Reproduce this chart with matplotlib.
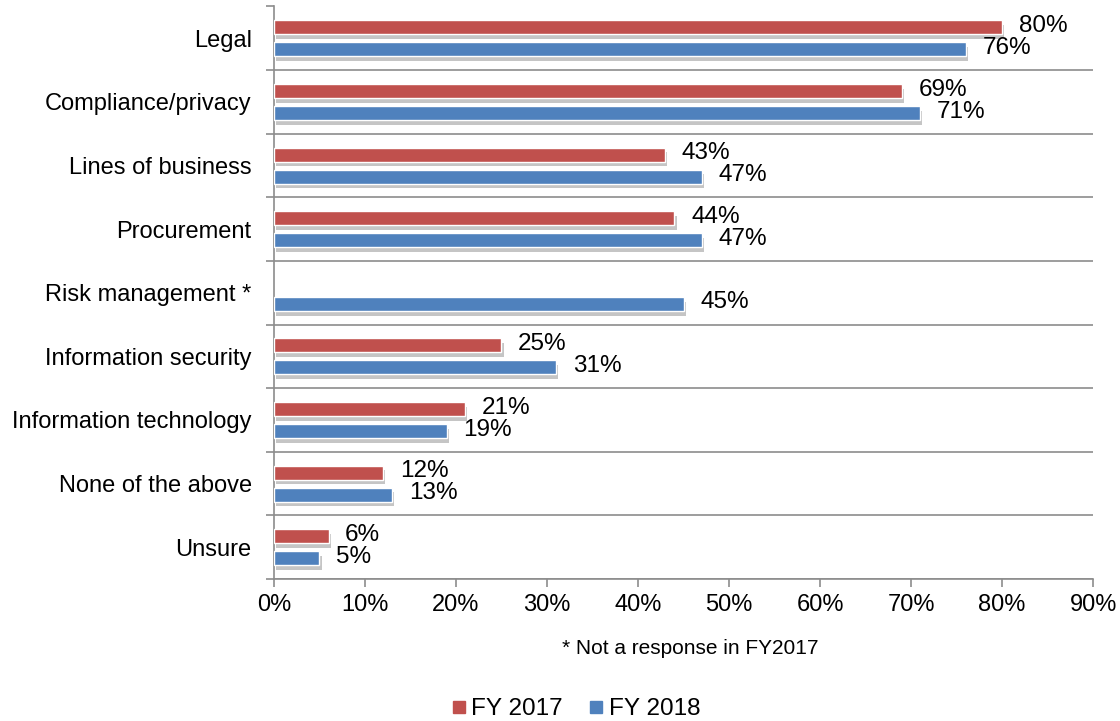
import numpy as np
import matplotlib.pyplot as plt
import matplotlib.patheffects as pe

plt.rcParams['font.family'] = ['Liberation Sans', 'DejaVu Sans']

categories = ["Legal", "Compliance/privacy", "Lines of business", "Procurement",
              "Risk management *", "Information security", "Information technology",
              "None of the above", "Unsure"]
fy2017 = [80, 69, 43, 44, None, 25, 21, 12, 6]
fy2018 = [76, 71, 47, 47, 45, 31, 19, 13, 5]

red = "#C0504D"
blue = "#4F81BD"
grid_col = "#8C8C8C"

fig = plt.figure(figsize=(11.2, 7.21), dpi=100)
ax = fig.add_axes([0.2446, 0.197, 0.7314, 0.794])

n = len(categories)
ypos = np.arange(n)
h = 0.22
off = 0.173
shadow = [pe.SimplePatchShadow(offset=(1.5, -3.5), shadow_rgbFace="#7f7f7f", alpha=0.45), pe.Normal()]

for i in range(n):
    for val, dy, col in ((fy2017[i], -off, red), (fy2018[i], off, blue)):
        if val is None:
            continue
        b = ax.barh(ypos[i] + dy, val, height=h, color=col, edgecolor="white", linewidth=1.0, zorder=3)
        for p in b.patches:
            p.set_path_effects(shadow)
        ax.annotate(f"{val}%", (val, ypos[i] + dy), xytext=(12, 1), textcoords="offset points",
                    ha="left", va="center", fontsize=17.5, zorder=4)

ax.set_ylim(n - 0.5, -0.5)
ax.set_xlim(0, 90)
ax.set_xticks(np.arange(0, 91, 10))
ax.set_xticklabels([f"{t}%" for t in range(0, 91, 10)], fontsize=17)

# category labels centred in their bands, ticks at band boundaries
ax.set_yticks(ypos)
ax.set_yticklabels(categories, fontsize=17)
ax.tick_params(axis="y", length=0, pad=16)
ax.set_yticks(np.arange(-0.5, n, 1), minor=True)
ax.tick_params(axis="y", which="minor", length=6, color=grid_col, width=1.2)
ax.tick_params(axis="x", length=6, color=grid_col, width=1.2, pad=5)

for yb in np.arange(-0.5 + 1, n, 1):
    ax.axhline(yb, color=grid_col, linewidth=1.2, zorder=1)

for s in ["top", "right"]:
    ax.spines[s].set_visible(False)
for s in ["left", "bottom"]:
    ax.spines[s].set_color(grid_col)
    ax.spines[s].set_linewidth(1.2)

fig.text(0.616, 0.101, "* Not a response in FY2017", ha="center", va="center", fontsize=15)

handles = [plt.Line2D([], [], marker="s", linestyle="none", color=red, markersize=8),
           plt.Line2D([], [], marker="s", linestyle="none", color=blue, markersize=8)]
fig.legend(handles, ["FY 2017", "FY 2018"], loc="center", bbox_to_anchor=(0.513, 0.016),
           ncol=2, frameon=False, fontsize=17.5, handletextpad=0.1, columnspacing=1.0,
           handlelength=0.8)

fig.savefig("out.png", dpi=100)
